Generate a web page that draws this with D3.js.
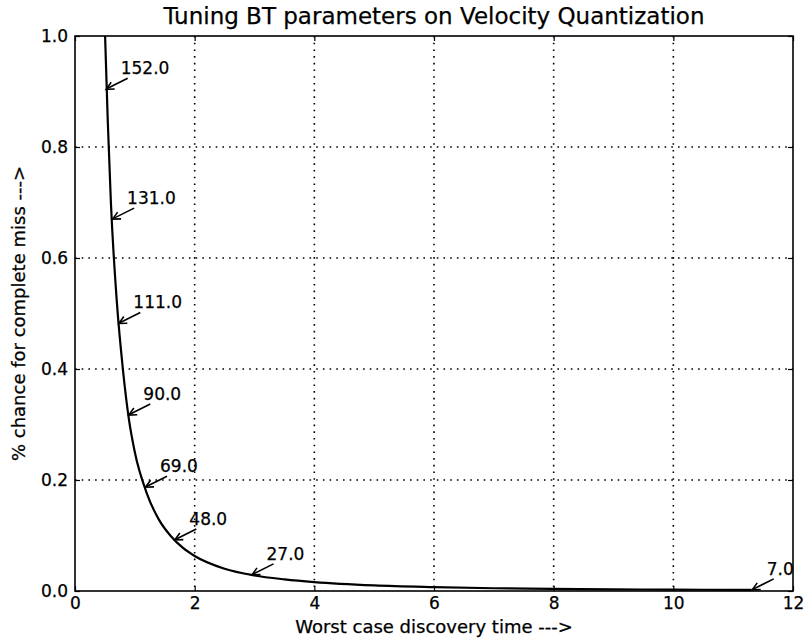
<!DOCTYPE html>
<html>
<head>
<meta charset="utf-8">
<script src="https://cdn.jsdelivr.net/npm/d3@7"></script>
<style>
  body { margin: 0; background: #fff; }
  text { font-family: "DejaVu Sans", sans-serif; fill: #000; stroke: #000; stroke-width: 0.25px; }
</style>
</head>
<body>
<svg id="chart"></svg>
<script>
/* data */
var missX = [0.45, 0.5, 0.55, 0.6, 0.7, 0.8, 0.9, 1.0, 1.2, 1.4, 1.6, 1.8, 2.0, 2.5, 3.0, 3.5, 4.0, 5.0, 6.0, 7.0, 8.0, 9.0, 10.0, 11.0, 11.31];
var missY = [1.25, 1.01, 0.84, 0.70, 0.52, 0.40, 0.31, 0.25, 0.176, 0.129, 0.099, 0.078, 0.063, 0.040, 0.028, 0.021, 0.016, 0.010, 0.007, 0.005, 0.004, 0.003, 0.0025, 0.0021, 0.002];

var noteLabels = ['152.0', '131.0', '111.0', '90.0', '69.0', '48.0', '27.0', '7.0'];
var noteX = [0.513, 0.62, 0.724, 0.891, 1.17, 1.66, 2.95, 11.31];
var noteY = [0.904, 0.67, 0.482, 0.317, 0.187, 0.092, 0.029, 0.002];

var xTicks = [0, 2, 4, 6, 8, 10, 12];
var yTicks = [0.0, 0.2, 0.4, 0.6, 0.8, 1.0];

var title = 'Tuning BT parameters on Velocity Quantization';
var xTitle = 'Worst case discovery time --->';
var yTitle = '% chance for complete miss --->';

/* layout */
var W = 806, H = 642;
var box = {left: 75, right: 793, top: 36, bottom: 591};

var svg = d3.select('#chart').attr('width', W).attr('height', H);

var x = d3.scaleLinear().domain([0, 12]).range([box.left, box.right]);
var y = d3.scaleLinear().domain([0, 1]).range([box.bottom, box.top]);

svg.append('defs').append('clipPath').attr('id', 'clip')
    .append('rect')
    .attr('x', box.left).attr('y', box.top)
    .attr('width', box.right - box.left).attr('height', box.bottom - box.top);

/* grid */
var grid = svg.append('g').attr('class', 'grid');
grid.selectAll('line.vx').data(xTicks.slice(1, -1)).enter().append('line')
    .attr('x1', d => x(d)).attr('x2', d => x(d))
    .attr('y1', box.top).attr('y2', box.bottom);
grid.selectAll('line.hy').data(yTicks.slice(1, -1)).enter().append('line')
    .attr('y1', d => y(d)).attr('y2', d => y(d))
    .attr('x1', box.left).attr('x2', box.right);
grid.selectAll('line')
    .attr('stroke', '#000')
    .attr('stroke-width', 1.6)
    .attr('stroke-dasharray', '1.6,5.1');

/* curve */
var pts = missX.map((v, i) => [v, missY[i]]);
svg.append('path')
    .datum(pts)
    .attr('clip-path', 'url(#clip)')
    .attr('fill', 'none')
    .attr('stroke', '#000')
    .attr('stroke-width', 2.2)
    .attr('d', d3.line().x(d => x(d[0])).y(d => y(d[1])).curve(d3.curveMonotoneX));

/* axes, matplotlib style: ticks inside on all four sides */
var tickLen = -5;
svg.append('g')
    .attr('transform', `translate(0,${box.bottom})`)
    .call(d3.axisBottom(x).tickValues(xTicks).tickFormat(d3.format('d')).tickSizeInner(tickLen).tickSizeOuter(0).tickPadding(6));
svg.append('g')
    .attr('transform', `translate(0,${box.top})`)
    .call(d3.axisTop(x).tickValues(xTicks).tickFormat('').tickSizeInner(tickLen).tickSizeOuter(0));
svg.append('g')
    .attr('transform', `translate(${box.left},0)`)
    .call(d3.axisLeft(y).tickValues(yTicks).tickFormat(d3.format('.1f')).tickSizeInner(tickLen).tickSizeOuter(0).tickPadding(7));
svg.append('g')
    .attr('transform', `translate(${box.right},0)`)
    .call(d3.axisRight(y).tickValues(yTicks).tickFormat('').tickSizeInner(tickLen).tickSizeOuter(0));

svg.selectAll('.domain').remove();
svg.selectAll('.tick line').attr('stroke', '#000').attr('stroke-width', 1.2);
svg.selectAll('.tick text').style('font-size', '17px').attr('fill', '#000');

/* frame */
svg.append('rect')
    .attr('x', box.left).attr('y', box.top)
    .attr('width', box.right - box.left).attr('height', box.bottom - box.top)
    .attr('fill', 'none').attr('stroke', '#000').attr('stroke-width', 1.6);

/* annotations */
var notes = svg.append('g').selectAll('g')
    .data(noteLabels.map((t, i) => ({t: t, x: noteX[i], y: noteY[i]})))
    .enter().append('g')
    .attr('transform', d => `translate(${x(d.x)},${y(d.y)})`);

notes.append('line')
    .attr('x1', 22).attr('y1', -11).attr('x2', 1).attr('y2', -0.5)
    .attr('stroke', '#000').attr('stroke-width', 1.6);
notes.append('path')
    .attr('d', 'M9,-0.3 L0.5,0 L5.5,-7')
    .attr('fill', 'none').attr('stroke', '#000').attr('stroke-width', 1.6);
notes.append('text')
    .attr('x', 15).attr('y', -15)
    .style('font-size', '17px')
    .text(d => d.t);

/* titles */
svg.append('text')
    .attr('x', (box.left + box.right) / 2).attr('y', 24)
    .attr('text-anchor', 'middle')
    .style('font-size', '23px')
    .text(title);

svg.append('text')
    .attr('x', (box.left + box.right) / 2).attr('y', 633)
    .attr('text-anchor', 'middle')
    .style('font-size', '18px')
    .text(xTitle);

svg.append('text')
    .attr('transform', `translate(25,${(box.top + box.bottom) / 2}) rotate(-90)`)
    .attr('text-anchor', 'middle')
    .style('font-size', '18px')
    .text(yTitle);
</script>
</body>
</html>
